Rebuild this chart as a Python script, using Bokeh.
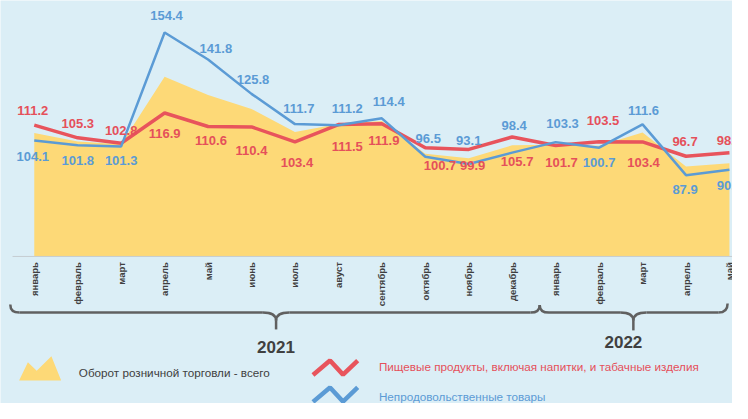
import math
from bokeh.plotting import figure
from bokeh.models import Range1d
from bokeh.core.properties import value
from bokeh.embed import file_html
from bokeh.resources import INLINE

# ---------------- data ----------------
months = ["январь", "февраль", "март", "апрель", "май", "июнь", "июль", "авуст",
          "сентябрь", "октябрь", "ноябрь", "декабрь",
          "январь", "февраль", "март", "апрель", "май"]
years = ["2021", "2022"]
retail_total = [107.5, 103.6, 102.3, 133.8, 125.3, 118.8, 108.0, 111.8, 113.2,
                97.9, 95.8, 101.8, 102.1, 101.6, 107.8, 91.9, 93.4]
food = [111.2, 105.3, 102.8, 116.9, 110.6, 110.4, 103.4, 111.5, 111.9,
        100.7, 99.9, 105.7, 101.7, 103.5, 103.4, 96.7, 98.3]
nonfood = [104.1, 101.8, 101.3, 154.4, 141.8, 125.8, 111.7, 111.2, 114.4,
           96.5, 93.1, 98.4, 103.3, 100.7, 111.6, 87.9, 90.4]
legend_labels = ["Оборот розничной торговли - всего",
                 "Пищевые продукты, включая напитки, и табачные изделия",
                 "Непродовольственные товары"]

# ---------------- label placement (layout, reference px) ----------------
food_dx = [-1.5, 0, 0, 0, 3, 0, 2, 9, 2, 15, 4, 5, 6, 4, 1, -1, 0]
food_dy = [-15, -15, -13, 21, 15, 25, 21, 23, 18, 19, 17, 25, 18, -22, 21, -15, -13]
nonfood_dx = [-1.5, 0, 0, 2, 8, 1.5, 4, 9, 7, 3, 0, 2, 7, 0, 1, -1, 0]
nonfood_dy = [17, 16, 15, -18, -12, -15, -16, -17, -17, -19, -24, -28, -19, 15, -14, 15, 16]

# ---------------- style ----------------
BG = "#DBEEF6"
YELLOW = "#FDD977"
RED = "#E8545C"
BLUE = "#5B9BD5"
RED_TXT = "#E5505A"
BLUE_TXT = "#5B9BD5"
GREY = "#404040"
BRACE = "#606060"
AXIS = "#C5CDD1"
FONT = value("Liberation Sans")

W, H = 732, 403
REF_W, REF_H = 748, 419
SX, SY = W / REF_W, H / REF_H

idx = list(range(len(months)))

p = figure(width=W, height=H, output_backend="svg", toolbar_location=None,
           x_range=Range1d(-0.777, 16.07), y_range=Range1d(-18.56, 169.33),
           x_axis_location=None, y_axis_location=None, min_border=0)
p.extra_x_ranges = {"px": Range1d(0, REF_W)}
p.extra_y_ranges = {"px": Range1d(REF_H, 0)}
p.background_fill_color = BG
p.border_fill_color = BG
p.outline_line_color = None
p.grid.visible = False

# area + axis baseline
p.varea(x=idx, y1=[50] * len(idx), y2=retail_total, fill_color=YELLOW)
p.segment(x0=[-0.5], y0=[50], x1=[16.6], y1=[50], line_color=AXIS, line_width=1)

# lines
p.line(idx, food, line_color=RED, line_width=3.5)
p.line(idx, nonfood, line_color=BLUE, line_width=2.5)

# data labels
p.text(x=idx, y=food, text=[f"{v:.1f}" for v in food],
       x_offset=[d * SX for d in food_dx], y_offset=[d * SY for d in food_dy],
       text_align="center", text_baseline="middle", text_color=RED_TXT,
       text_font=FONT, text_font_size="13px", text_font_style="bold")
p.text(x=idx, y=nonfood, text=[f"{v:.1f}" for v in nonfood],
       x_offset=[d * SX for d in nonfood_dx], y_offset=[d * SY for d in nonfood_dy],
       text_align="center", text_baseline="middle", text_color=BLUE_TXT,
       text_font=FONT, text_font_size="13px", text_font_style="bold")

# month labels (category axis)
p.text(x=idx, y=[272] * len(idx), y_range_name="px", text=months, angle=math.pi / 2,
       text_align="right", text_baseline="middle", text_color=GREY,
       text_font=FONT, text_font_size="9.5px", text_font_style="bold")

# braces (reference px coordinates)
def brace(L, R, T, y_end_l, y_end_r, y_line, y_tip):
    q = []   # quadratic curves: x0,y0,cx,cy,x1,y1
    s = []   # segments
    q.append((L, y_end_l, L, y_line, L + 9.5, y_line))
    q.append((T - 13.5, y_line, T, y_line, T, y_line + 8.5))
    q.append((T, y_line + 8.5, T, y_line, T + 13.5, y_line))
    q.append((R - 9.5, y_line, R, y_line, R, y_end_r))
    s.append((L + 9.5, y_line, T - 13.5, y_line))
    s.append((T + 13.5, y_line, R - 9.5, y_line))
    s.append((T, y_line + 8.5, T, y_tip))
    return q, s

qs, ss = [], []
for args in [(10, 551, 281.6, 316, 316.5, 324.5, 342),
             (551, 743, 646.7, 316.5, 315, 324.5, 343)]:
    q, s = brace(*args)
    qs += q
    ss += s

p.quadratic(x0=[c[0] for c in qs], y0=[c[1] for c in qs], cx=[c[2] for c in qs],
            cy=[c[3] for c in qs], x1=[c[4] for c in qs], y1=[c[5] for c in qs],
            x_range_name="px", y_range_name="px", line_color=BRACE, line_width=2.5)
p.segment(x0=[c[0] for c in ss], y0=[c[1] for c in ss], x1=[c[2] for c in ss],
          y1=[c[3] for c in ss], x_range_name="px", y_range_name="px",
          line_color=BRACE, line_width=2.5)

# year labels
p.text(x=[281.5, 636.5], y=[360.5, 355], text=years, x_range_name="px", y_range_name="px",
       text_align="center", text_baseline="middle", text_color=GREY,
       text_font=FONT, text_font_size="17px", text_font_style="bold")

# legend
p.patch(x=[19, 28, 37, 52, 62], y=[395, 376, 385, 370, 395], x_range_name="px",
        y_range_name="px", fill_color=YELLOW, line_color=None)
p.line(x=[319.3, 336.7, 350, 365], y=[389.3, 374.3, 389, 374.3], x_range_name="px",
       y_range_name="px", line_color=RED, line_width=4.5)
p.line(x=[319.3, 336.7, 350, 365], y=[417.3, 402.3, 417, 402.3], x_range_name="px",
       y_range_name="px", line_color=BLUE, line_width=4.5)
p.text(x=[80], y=[386.7], text=[legend_labels[0]], x_range_name="px", y_range_name="px",
       text_align="left", text_baseline="middle", text_color=GREY,
       text_font=FONT, text_font_size="11.7px")
p.text(x=[386.7], y=[380.7], text=[legend_labels[1]], x_range_name="px", y_range_name="px",
       text_align="left", text_baseline="middle", text_color=RED_TXT,
       text_font=FONT, text_font_size="11.7px")
p.text(x=[386.7], y=[411.5], text=[legend_labels[2]], x_range_name="px", y_range_name="px",
       text_align="left", text_baseline="middle", text_color=BLUE_TXT,
       text_font=FONT, text_font_size="11.7px")

open("out.html", "w").write(file_html(p, INLINE))
